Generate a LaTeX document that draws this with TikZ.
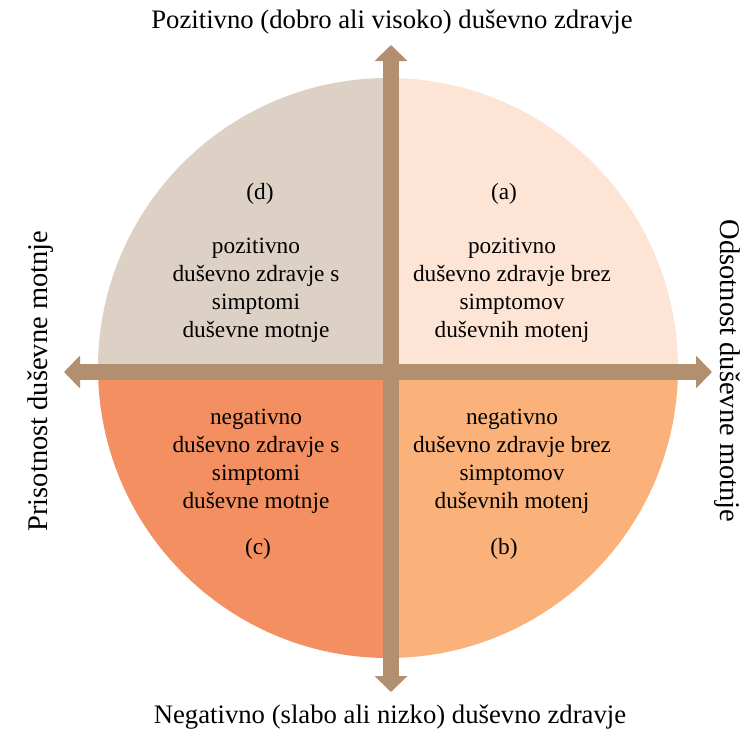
\documentclass[tikz,border=0pt]{standalone}
\usepackage{fontspec}
\setmainfont{Liberation Serif}
\usetikzlibrary{arrows.meta}
\definecolor{qTL}{RGB}{221,208,196}
\definecolor{qTR}{RGB}{253,228,212}
\definecolor{qBL}{RGB}{243,143,96}
\definecolor{qBR}{RGB}{250,178,122}
\definecolor{axisc}{RGB}{178,143,110}
\tikzset{
  axis/.style={draw=axisc, line width=16pt,
    {Triangle[width=32pt,length=16pt]}-{Triangle[width=32pt,length=16pt]}},
  qtext/.style={align=center, font=\fontsize{23.3}{28}\selectfont, inner sep=0pt},
  title/.style={font=\fontsize{26.7}{30}\selectfont, inner sep=0pt},
  side/.style={font=\fontsize{28.5}{32}\selectfont, inner sep=0pt},
}
\begin{document}
\begin{tikzpicture}[x=1pt,y=-1pt]
\useasboundingbox (0,0) rectangle (749,729);
\begin{scope}
\clip (388,368) circle (290);
\fill[qTL] (0,0) rectangle (391,372);
\fill[qTR] (391,0) rectangle (749,372);
\fill[qBL] (0,372) rectangle (391,729);
\fill[qBR] (391,372) rectangle (749,729);
\end{scope}
\coordinate (top) at (391,45);
\coordinate (bot) at (391,692);
\coordinate (lft) at (64,372);
\coordinate (rgt) at (712,372);
\draw[axis] (bot) -- (top);
\draw[axis] (lft) -- (rgt);
\node[title] (tt) at (392,22) {Pozitivno (dobro ali visoko) duševno zdravje};
\node[title] (bt) at (390,717) {Negativno (slabo ali nizko) duševno zdravje};
\node[side, rotate=90] (lt) at (41,381) {Prisotnost duševne motnje};
\node[side, rotate=-90] (rt) at (727,371) {Odsotnost duševne motnje};
\node[qtext] (la) at (504,194) {(a)};
\node[qtext] (ld) at (260,194) {(d)};
\node[qtext] (lc) at (258,549) {(c)};
\node[qtext] (lb) at (504,549) {(b)};
\node[qtext] (ta) at (512,290) {pozitivno\\duševno zdravje brez\\simptomov\\duševnih motenj};
\node[qtext] (td) at (256,290) {pozitivno\\duševno zdravje s\\simptomi\\duševne motnje};
\node[qtext] (tc) at (256,461) {negativno\\duševno zdravje s\\simptomi\\duševne motnje};
\node[qtext] (tb) at (512,461) {negativno\\duševno zdravje brez\\simptomov\\duševnih motenj};
\end{tikzpicture}
\end{document}
